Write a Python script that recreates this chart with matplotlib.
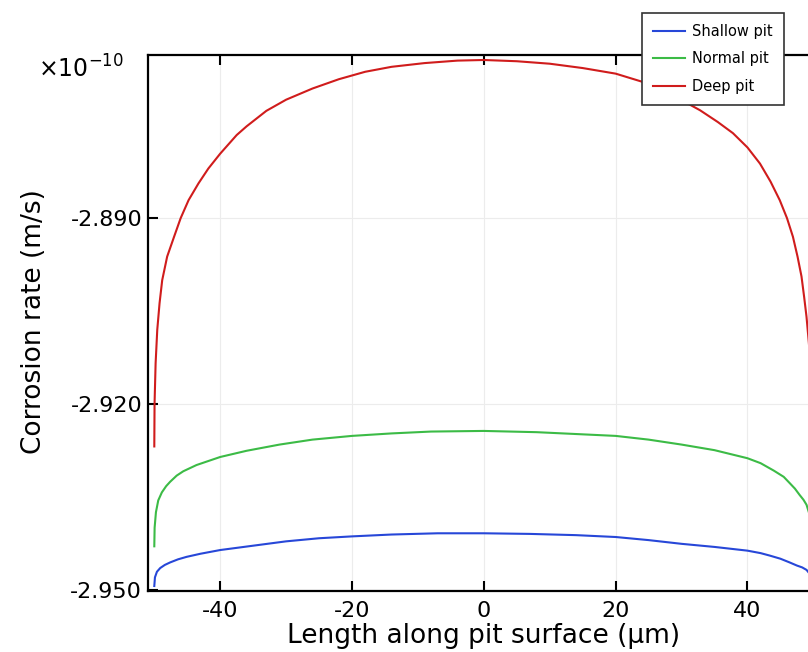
import numpy as np
import matplotlib
matplotlib.use("Agg")
import matplotlib.pyplot as plt

plt.rcParams['axes.unicode_minus'] = False
plt.rcParams['font.family'] = ['DejaVu Sans']

# corrosion rate in units of 1e-10 m/s, x in um
x_shallow = [-50.0, -49.9, -49.6, -49.1, -48.4, -47.6, -46.4, -45.1, -43.0, -40.0,
             -35.0, -30.0, -25.0, -20.0, -14.0, -7.0, 0.0, 7.0, 14.0, 20.0,
             25.0, 30.0, 35.0, 40.0, 42.0, 43.4, 45.0, 46.4, 47.5, 48.3,
             48.96, 49.5, 49.85, 50.0]
shallow = [-2.9494, -2.9480, -2.9471, -2.9465, -2.9460, -2.9456, -2.9451, -2.9447, -2.9442, -2.9436,
           -2.9429, -2.9422, -2.9417, -2.9414, -2.9411, -2.9409, -2.9409, -2.9410, -2.9412, -2.9415,
           -2.9420, -2.9426, -2.9431, -2.9437, -2.9441, -2.9445, -2.9450, -2.9456, -2.9461, -2.9464,
           -2.9468, -2.9475, -2.9482, -2.9494]

x_normal = [-50.0, -49.95, -49.75, -49.4, -48.85, -48.2, -47.6, -46.6, -45.6, -43.6,
            -40.0, -36.0, -31.0, -26.0, -20.0, -14.0, -8.0, 0.0, 8.0, 14.0,
            20.0, 25.0, 30.0, 35.0, 40.0, 42.0, 44.0, 45.5, 46.4, 47.2,
            47.9, 48.5, 48.96, 49.4, 49.8, 50.0]
normal = [-2.9430, -2.9400, -2.9375, -2.9356, -2.9343, -2.9333, -2.9326, -2.9316, -2.9309, -2.9299,
          -2.9286, -2.9276, -2.9266, -2.9258, -2.9252, -2.9248, -2.9245, -2.9244, -2.9246, -2.9249,
          -2.9252, -2.9258, -2.9266, -2.9275, -2.9288, -2.9296, -2.9308, -2.9318, -2.9328, -2.9337,
          -2.9347, -2.9355, -2.9363, -2.9378, -2.9400, -2.9430]

x_deep = [-50.0, -49.96, -49.8, -49.55, -49.2, -48.8, -48.05, -47.0, -46.0, -44.8,
          -43.3, -41.8, -40.0, -37.5, -36.0, -33.0, -30.0, -26.0, -22.0, -18.0,
          -14.0, -9.0, -4.0, 0.0, 5.0, 10.0, 15.0, 20.0, 24.0, 28.0,
          32.8, 35.5, 37.8, 40.0, 41.9, 43.5, 44.9, 46.0, 46.9, 47.6,
          48.2, 48.6, 48.96, 49.3, 49.6, 49.85, 50.0]
deep = [-2.9269, -2.9200, -2.9135, -2.9081, -2.9038, -2.9001, -2.8963, -2.8931, -2.8901, -2.8872,
        -2.8845, -2.8821, -2.8797, -2.8767, -2.8753, -2.8728, -2.8710, -2.8692, -2.8677, -2.8665,
        -2.8657, -2.8651, -2.8647, -2.8646, -2.8648, -2.8652, -2.8659, -2.8668, -2.8681, -2.8699,
        -2.8727, -2.8746, -2.8764, -2.8787, -2.8813, -2.8842, -2.8872, -2.8901, -2.8931, -2.8963,
        -2.8995, -2.9028, -2.9060, -2.9100, -2.9140, -2.9200, -2.9269]

labels = ['Shallow pit', 'Normal pit', 'Deep pit']
colors = ['#2747d8', '#3cbb46', '#d01c1c']

fig = plt.figure(figsize=(8.08, 6.52), dpi=100)
ax = fig.add_axes([0.1828, 0.0936, 0.832, 0.822])

for xs, ys, lab, c in zip([x_shallow, x_normal, x_deep], [shallow, normal, deep], labels, colors):
    ax.plot(xs, ys, color=c, lw=1.5, label=lab)

ax.set_xlim(-51, 51)
ax.set_ylim(-2.9502, -2.8638)
ax.set_xticks([-40, -20, 0, 20, 40])
ax.set_yticks([-2.950, -2.920, -2.890])
ax.yaxis.set_major_formatter(matplotlib.ticker.FormatStrFormatter('%.3f'))
ax.grid(True, color='#ececec', lw=0.8)
ax.tick_params(direction='in', length=7, width=1.5, labelsize=16, top=True, right=True)
ax.tick_params(axis='x', pad=7)
ax.tick_params(axis='y', pad=4)
for s in ax.spines.values():
    s.set_linewidth(1.6)

ax.set_xlabel('Length along pit surface (µm)', fontsize=19)
ax.set_ylabel('Corrosion rate (m/s)', fontsize=19)
ax.xaxis.set_label_coords(0.5, -0.06)
ax.yaxis.set_label_coords(-0.15, 0.502)

fig.text(38 / 808, 1 - 78 / 652, '×10$^{\\mathregular{-10}}$', fontsize=17)

leg = fig.legend(loc='upper left', bbox_to_anchor=(642 / 808, 1 - 13 / 652), fontsize=10.5,
                 fancybox=False, framealpha=1, edgecolor='#333333', handlelength=2.2,
                 handletextpad=0.5, borderpad=0.75, labelspacing=0.85, borderaxespad=0)
leg.get_frame().set_linewidth(1.2)

fig.savefig('out.png', dpi=100)
